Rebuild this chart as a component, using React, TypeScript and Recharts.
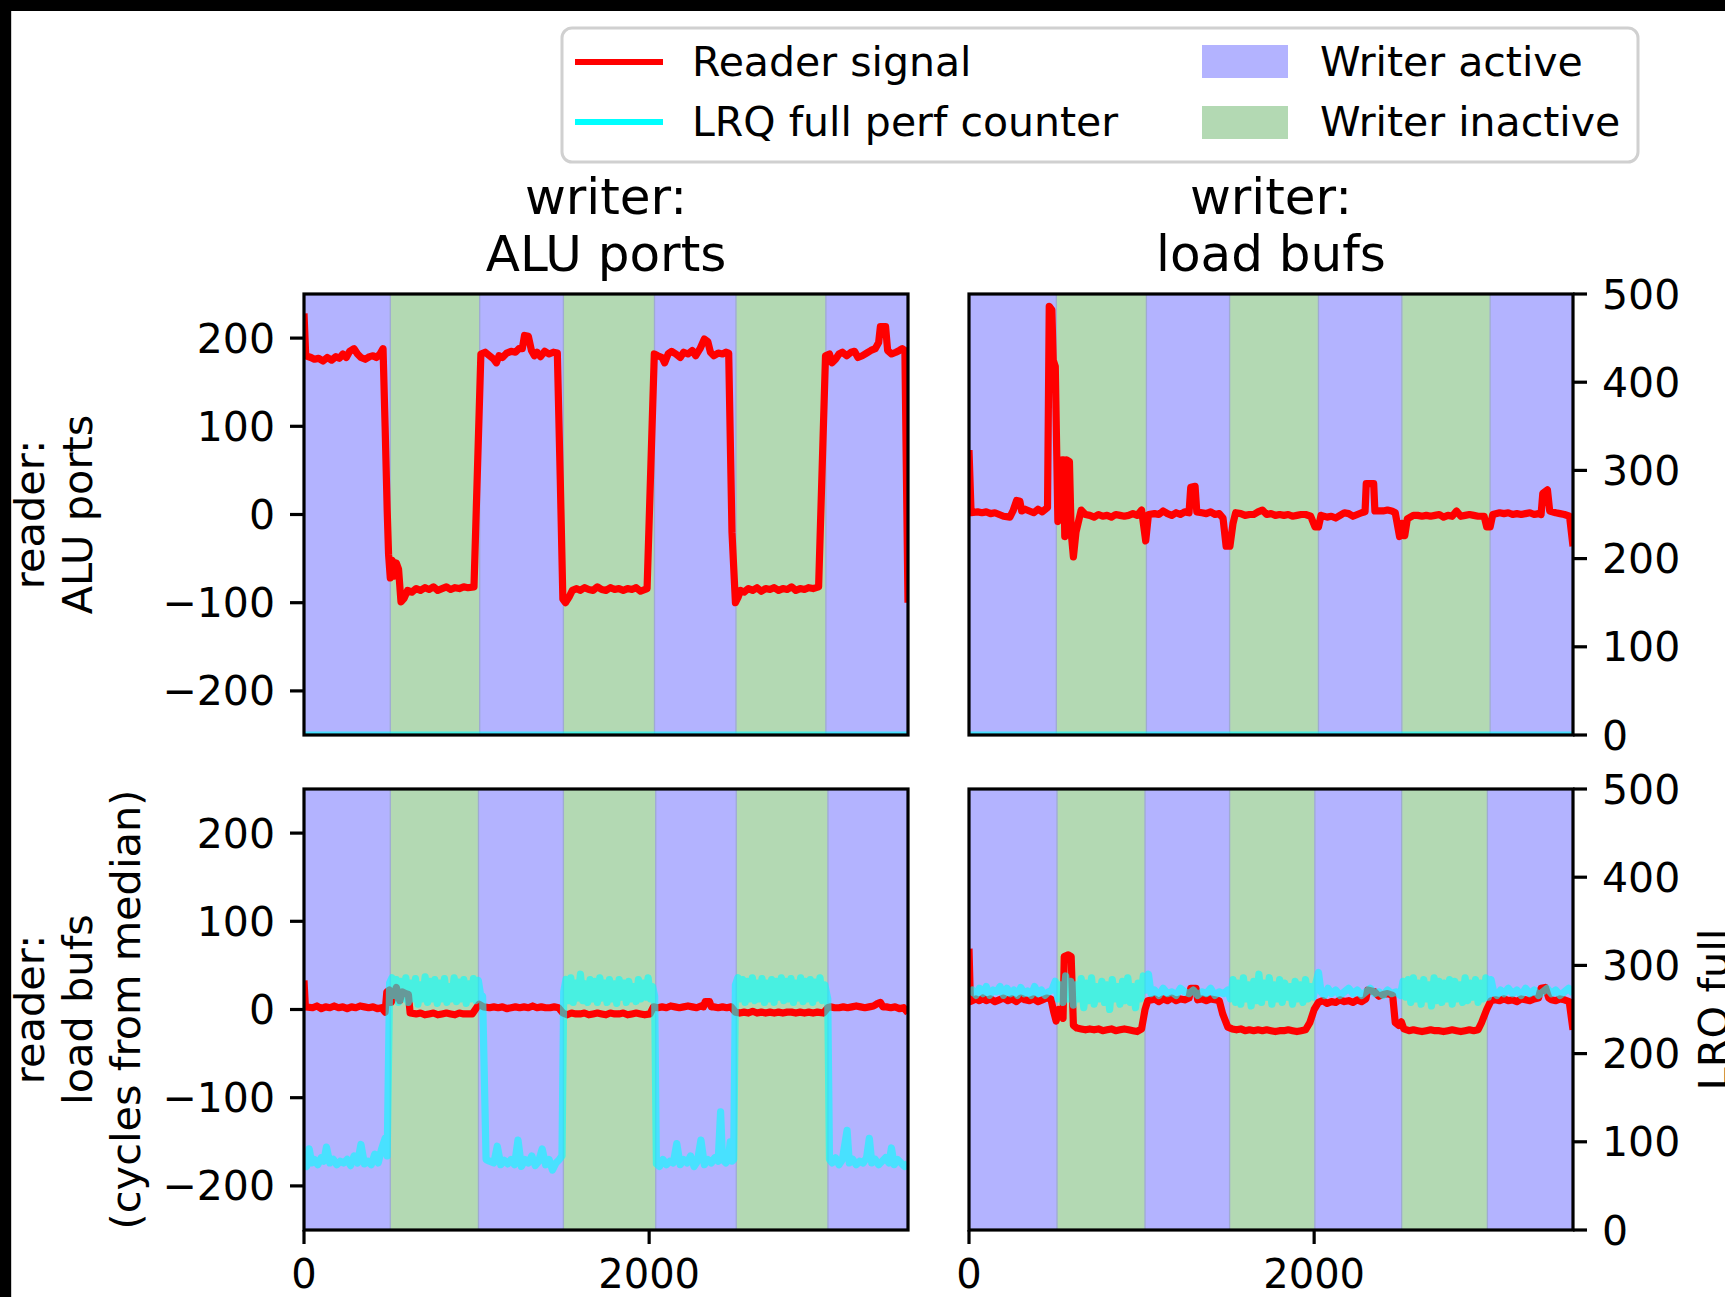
import React from 'react';
import { ComposedChart, Line, XAxis, YAxis, ReferenceArea, ReferenceLine } from 'recharts';

type Pair = [number, number];

const FONT = '"DejaVu Sans", "Liberation Sans", sans-serif';

// Axis ticks
const X_TICKS = [0, 2000];
const SIGNAL_TICKS = [-200, -100, 0, 100, 200];
const LRQ_TICKS = [0, 100, 200, 300, 400, 500];
const X_DOMAIN: [number, number] = [0, 3500];
const SIGNAL_DOMAIN: [number, number] = [-250, 250];
const LRQ_DOMAIN: [number, number] = [0, 500];

// Sample index at which the writer toggles (starts active at 0)
const switchesAluAlu = [500, 1018, 1503, 2031, 2503, 3024];
const switchesAluLoad = [506, 1028, 1510, 2025, 2508, 3020];
const switchesLoadAlu = [500, 1011, 1503, 2038, 2505, 3036];
const switchesLoadLoad = [510, 1020, 1510, 2004, 2507, 3004];

// Reader: ALU ports, writer: ALU ports
const signalAluAlu: Pair[] = [
  [0, 228], [10, 180], [40, 178], [60, 176], [85, 177], [110, 174], [135, 178], [160, 175], [185, 179],
  [205, 177], [225, 182], [245, 178], [265, 185], [290, 188], [310, 182], [330, 178], [355, 176],
  [380, 179], [400, 180], [420, 178], [440, 182], [458, 188], [470, 100], [482, 5], [490, -45],
  [500, -72], [510, -52], [522, -70], [535, -55], [548, -62], [562, -99], [580, -95], [600, -86],
  [625, -88], [650, -84], [675, -86], [700, -83], [725, -85], [750, -82], [775, -86], [800, -84],
  [825, -82], [850, -85], [875, -83], [900, -84], [925, -82], [950, -83], [985, -82], [1025, 182],
  [1050, 184], [1075, 180], [1100, 176], [1115, 172], [1130, 180], [1150, 178], [1175, 183],
  [1200, 185], [1225, 184], [1245, 188], [1265, 188], [1278, 203], [1300, 202], [1318, 186],
  [1335, 180], [1350, 184], [1370, 179], [1395, 185], [1420, 182], [1445, 184], [1468, 183],
  [1485, 40], [1500, -96], [1515, -100], [1535, -94], [1555, -86], [1580, -84], [1600, -86],
  [1625, -83], [1650, -85], [1675, -86], [1700, -82], [1725, -85], [1750, -86], [1775, -83],
  [1800, -85], [1825, -84], [1850, -86], [1875, -84], [1900, -85], [1925, -83], [1950, -87],
  [1988, -84], [2030, 182], [2050, 180], [2075, 178], [2090, 172], [2110, 182], [2130, 185],
  [2155, 182], [2180, 178], [2200, 184], [2225, 182], [2250, 186], [2270, 180], [2295, 188],
  [2320, 199], [2340, 196], [2355, 184], [2375, 180], [2400, 183], [2425, 182], [2445, 184],
  [2461, 183], [2480, -20], [2500, -100], [2515, -94], [2530, -86], [2550, -88], [2575, -84],
  [2600, -86], [2625, -83], [2650, -87], [2675, -84], [2700, -85], [2725, -83], [2750, -86],
  [2775, -84], [2800, -85], [2825, -82], [2850, -86], [2875, -84], [2900, -85], [2925, -83],
  [2950, -84], [2982, -82], [3022, 180], [3045, 182], [3060, 172], [3080, 176], [3100, 182],
  [3120, 184], [3145, 180], [3170, 184], [3190, 185], [3210, 178], [3235, 180], [3260, 183],
  [3285, 186], [3310, 188], [3330, 195], [3340, 213], [3370, 213], [3382, 186], [3405, 182],
  [3430, 184], [3450, 186], [3467, 188], [3482, 186], [3500, -100],
];
const lrqAluAlu: Pair[] = [[0, 0], [1000, 0], [2000, 0], [3000, 0], [3500, 0]];

// Reader: ALU ports, writer: load bufs
const signalAluLoad: Pair[] = [
  [0, 73], [12, 2], [50, 3], [75, 2], [100, 3], [125, 1], [150, 2], [175, 0], [200, -2], [237, -3],
  [255, 4], [276, 16], [295, 15], [305, 4], [325, 6], [350, 4], [375, 2], [400, 6], [425, 3],
  [455, 8], [465, 236], [480, 232], [488, 175], [500, 168], [515, -8], [528, -2], [540, 62],
  [548, 62], [555, -25], [565, 62], [582, 60], [592, -20], [605, -48], [620, -20], [650, 5],
  [675, 0], [700, -1], [725, -3], [750, 0], [775, -2], [800, -1], [825, -3], [850, 0], [875, -1],
  [900, -2], [925, -1], [950, 1], [975, -1], [1000, 5], [1024, -30], [1040, 0], [1075, 1],
  [1100, 0], [1125, 4], [1150, 1], [1175, -1], [1200, 2], [1225, 0], [1250, 3], [1275, 2],
  [1285, 31], [1310, 32], [1320, 3], [1350, 2], [1375, 1], [1400, 3], [1425, 0], [1450, 1],
  [1472, -4], [1490, -36], [1512, -36], [1530, -10], [1545, 2], [1575, 1], [1600, -1], [1625, 0],
  [1650, 0], [1675, 3], [1700, 5], [1725, 0], [1750, 1], [1775, -1], [1800, 0], [1825, -1],
  [1850, 0], [1875, -2], [1900, -1], [1925, 0], [1950, 0], [1980, -2], [2005, -14], [2025, -14],
  [2040, -1], [2075, -3], [2100, -2], [2125, -4], [2150, -1], [2175, 2], [2200, 1], [2225, -2],
  [2250, 0], [2275, 2], [2295, 3], [2302, 35], [2345, 35], [2352, 4], [2375, 4], [2400, 4],
  [2425, 5], [2450, 4], [2470, 2], [2495, -25], [2510, -10], [2525, -24], [2540, -5], [2575, -1],
  [2600, -1], [2625, -2], [2650, -1], [2675, -2], [2700, -1], [2725, 0], [2750, -3], [2775, -1],
  [2800, -2], [2825, 4], [2850, -2], [2875, -1], [2900, 0], [2925, -1], [2950, -2], [2985, -2],
  [3000, -14], [3020, -14], [3035, 0], [3075, 2], [3100, 1], [3125, 2], [3150, 0], [3175, 1],
  [3200, 0], [3225, 1], [3250, 2], [3275, 0], [3300, 1], [3315, 0], [3325, 24], [3352, 28],
  [3365, 4], [3400, 2], [3425, 1], [3450, 0], [3480, -2], [3500, -36],
];
const lrqAluLoad: Pair[] = [[0, 0], [1000, 0], [2000, 0], [3000, 0], [3500, 0]];

// Reader: load bufs, writer: ALU ports
const signalLoadAlu: Pair[] = [
  [0, 33], [8, 3], [50, 2], [75, 4], [100, 1], [125, 3], [150, 2], [175, 4], [200, 2], [225, 3],
  [250, 1], [275, 3], [300, 2], [325, 4], [350, 3], [375, 2], [400, 3], [425, 1], [450, 2],
  [470, -3], [480, 20], [495, 22], [505, 8], [520, 15], [535, 25], [555, 10], [570, 20], [590, 18],
  [605, 17], [615, -4], [650, -5], [675, -4], [700, -6], [725, -5], [750, -4], [775, -6], [800, -5],
  [825, -4], [850, -5], [875, -6], [900, -4], [925, -5], [950, -5], [975, -5], [1000, 2], [1015, 6],
  [1040, 3], [1075, 2], [1100, 3], [1125, 2], [1150, 3], [1175, 1], [1200, 2], [1225, 3], [1250, 2],
  [1275, 3], [1300, 2], [1325, 4], [1350, 2], [1375, 3], [1400, 2], [1425, 2], [1450, 3], [1475, 2],
  [1500, -4], [1525, -6], [1550, -4], [1575, -5], [1600, -5], [1625, -4], [1650, -6], [1675, -5],
  [1700, -4], [1725, -5], [1750, -6], [1775, -4], [1800, -5], [1825, -5], [1850, -4], [1875, -6],
  [1900, -5], [1925, -4], [1950, -5], [1975, -6], [2005, -5], [2025, 3], [2050, 2], [2075, 3],
  [2100, 2], [2125, 4], [2150, 3], [2175, 2], [2200, 3], [2225, 4], [2250, 3], [2275, 2], [2300, 4],
  [2315, 3], [2325, 9], [2350, 9], [2360, 3], [2375, 3], [2400, 2], [2425, 3], [2450, 2], [2475, 3],
  [2500, -3], [2525, -4], [2550, -3], [2575, -4], [2600, -2], [2625, -4], [2650, -3], [2675, -4],
  [2700, -3], [2725, -4], [2750, -3], [2775, -4], [2800, -3], [2825, -3], [2850, -4], [2875, -3],
  [2900, -4], [2925, -3], [2950, -4], [2975, -3], [3010, -4], [3035, 2], [3050, 3], [3075, 2],
  [3100, 2], [3125, 3], [3150, 2], [3175, 3], [3200, 4], [3225, 3], [3250, 2], [3275, 3], [3300, 4],
  [3325, 7], [3340, 8], [3355, 3], [3375, 3], [3400, 2], [3425, 3], [3450, 1], [3475, 2], [3500, -4],
];
const lrqLoadAlu: Pair[] = [
  [0, 78], [15, 72], [30, 92], [45, 76], [60, 80], [80, 74], [100, 82], [115, 78], [130, 94],
  [150, 76], [170, 80], [190, 74], [210, 78], [230, 76], [250, 80], [270, 73], [290, 84], [310, 76],
  [330, 97], [350, 75], [370, 78], [390, 74], [410, 86], [430, 76], [450, 92], [470, 104], [482, 84],
  [496, 280], [510, 286], [522, 266], [535, 284], [548, 258], [562, 282], [576, 262], [590, 286],
  [604, 258], [618, 280], [632, 262], [646, 285], [660, 256], [674, 278], [688, 262], [702, 287],
  [716, 258], [730, 282], [744, 262], [758, 284], [772, 257], [786, 280], [800, 262], [814, 285],
  [828, 258], [842, 276], [856, 262], [870, 286], [884, 259], [898, 281], [912, 262], [926, 284],
  [940, 257], [954, 279], [968, 262], [982, 285], [996, 260], [1010, 283], [1022, 268], [1035, 265],
  [1055, 80], [1075, 78],
  [1100, 76], [1120, 95], [1140, 74], [1160, 79], [1180, 75], [1200, 80], [1220, 74], [1240, 102],
  [1260, 72], [1280, 80], [1300, 76], [1320, 84], [1340, 73], [1360, 78], [1380, 92], [1400, 74],
  [1420, 80], [1440, 68], [1460, 76], [1480, 80], [1495, 84], [1505, 270], [1518, 284], [1532, 260],
  [1546, 286], [1560, 258], [1574, 280], [1588, 263], [1602, 290], [1616, 260], [1630, 279],
  [1644, 258], [1658, 284], [1672, 262], [1686, 282], [1700, 258], [1714, 286], [1728, 263],
  [1742, 280], [1756, 258], [1770, 284], [1784, 262], [1798, 279], [1812, 257], [1826, 284],
  [1840, 264], [1854, 280], [1868, 258], [1882, 282], [1896, 262], [1910, 276], [1924, 259],
  [1938, 284], [1952, 262], [1966, 280], [1980, 264], [1994, 286], [2008, 262], [2020, 276],
  [2032, 265], [2042, 75], [2060, 72], [2080, 80], [2100, 74],
  [2120, 78], [2140, 76], [2160, 98], [2180, 74], [2200, 80], [2220, 76], [2240, 84], [2260, 72],
  [2280, 78], [2300, 102], [2320, 74], [2340, 80], [2360, 76], [2380, 82], [2400, 78], [2414, 134],
  [2425, 80], [2445, 76], [2460, 82], [2470, 100], [2480, 78], [2490, 80], [2500, 278], [2514, 286],
  [2528, 262], [2542, 284], [2556, 258], [2570, 282], [2584, 262], [2598, 286], [2612, 260],
  [2626, 280], [2640, 262], [2654, 285], [2668, 258], [2682, 280], [2696, 262], [2710, 284],
  [2724, 258], [2738, 282], [2752, 264], [2766, 286], [2780, 260], [2794, 282], [2808, 262],
  [2822, 285], [2836, 258], [2850, 280], [2864, 263], [2878, 286], [2892, 259], [2906, 282],
  [2920, 262], [2934, 284], [2948, 258], [2962, 281], [2976, 263], [2990, 286], [3004, 260],
  [3018, 278], [3035, 262], [3045, 80], [3060, 76], [3080, 82],
  [3100, 74], [3120, 80], [3147, 113], [3160, 76], [3180, 80], [3200, 74], [3220, 78], [3240, 76],
  [3260, 82], [3276, 104], [3290, 76], [3310, 80], [3330, 74], [3350, 78], [3370, 82], [3390, 76],
  [3404, 93], [3420, 74], [3440, 80], [3460, 76], [3480, 72], [3500, 76],
];

// Reader: load bufs, writer: load bufs
const signalLoadLoad: Pair[] = [
  [0, 69], [8, 9], [40, 12], [60, 10], [80, 13], [100, 10], [125, 12], [150, 9], [175, 11], [200, 13],
  [225, 10], [250, 12], [275, 9], [300, 13], [325, 11], [350, 10], [375, 12], [400, 9], [425, 11],
  [450, 13], [475, 12], [490, -2], [505, -13], [520, 0], [530, -5], [545, -10], [552, 60], [575, 62],
  [592, 60], [605, -18], [625, -21], [650, -22], [675, -23], [700, -22], [725, -23], [750, -22],
  [775, -24], [800, -23], [825, -22], [850, -24], [875, -23], [900, -22], [925, -23], [950, -24],
  [975, -25], [1000, -22], [1020, 0], [1036, 10], [1060, 11], [1075, 12], [1100, 9], [1125, 12],
  [1150, 10], [1175, 13], [1200, 10], [1225, 12], [1250, 11], [1275, 13], [1285, 24], [1315, 24],
  [1325, 11], [1350, 12], [1375, 10], [1400, 12], [1425, 11], [1450, 10], [1470, -5], [1500, -20],
  [1525, -22], [1550, -23], [1575, -22], [1600, -24], [1625, -23], [1650, -24], [1675, -23],
  [1700, -24], [1725, -23], [1750, -24], [1775, -25], [1800, -24], [1825, -24], [1850, -23],
  [1875, -24], [1900, -25], [1925, -24], [1950, -23], [1975, -15], [2000, 0], [2025, 8], [2050, 10],
  [2075, 7], [2100, 9], [2125, 8], [2150, 11], [2175, 9], [2200, 10], [2225, 8], [2250, 11], [2275, 9],
  [2300, 12], [2310, 22], [2350, 20], [2375, 15], [2400, 17], [2425, 18], [2455, 16], [2470, -15],
  [2490, -18], [2505, -14], [2520, -22], [2550, -24], [2575, -23], [2600, -24], [2625, -25],
  [2650, -24], [2675, -23], [2700, -24], [2725, -24], [2750, -25], [2775, -24], [2800, -23],
  [2825, -24], [2850, -25], [2875, -24], [2900, -23], [2925, -24], [2950, -23], [2970, -15],
  [3000, 0], [3025, 10], [3050, 11], [3075, 10], [3100, 12], [3125, 10], [3150, 11], [3175, 9],
  [3200, 12], [3225, 11], [3250, 10], [3275, 12], [3300, 13], [3315, 24], [3340, 25], [3360, 13],
  [3375, 11], [3400, 10], [3425, 12], [3450, 11], [3478, 9], [3500, -23],
];
const lrqLoadLoad: Pair[] = [
  [0, 268], [20, 272], [40, 266], [60, 274], [80, 268], [100, 276], [120, 266], [140, 272], [160, 270],
  [180, 276], [200, 266], [220, 274], [240, 268], [260, 272], [280, 266], [300, 275], [320, 268],
  [340, 271], [360, 266], [380, 276], [400, 268], [420, 272], [440, 266], [460, 270], [480, 272],
  [500, 282], [515, 262], [530, 278], [545, 258], [560, 288], [575, 262], [590, 282], [605, 255],
  [620, 278], [635, 262], [650, 285], [665, 252], [680, 280], [695, 260], [710, 286], [725, 256],
  [740, 276], [755, 262], [770, 282], [785, 258], [800, 278], [815, 250], [830, 284], [845, 262],
  [860, 276], [875, 256], [890, 282], [905, 260], [920, 286], [935, 258], [950, 276], [965, 252],
  [980, 280], [995, 262], [1010, 288], [1025, 272], [1040, 290], [1055, 268], [1075, 272],
  [1100, 266], [1125, 274], [1150, 268], [1175, 270], [1200, 266], [1225, 274], [1250, 270],
  [1275, 268], [1300, 272], [1325, 266], [1350, 270], [1375, 268], [1400, 274], [1425, 266],
  [1450, 270], [1475, 268], [1500, 272], [1515, 262], [1530, 284], [1545, 258], [1560, 280],
  [1575, 256], [1590, 286], [1605, 262], [1620, 278], [1635, 254], [1650, 282], [1665, 260],
  [1680, 290], [1695, 258], [1710, 280], [1725, 264], [1740, 286], [1755, 256], [1770, 278],
  [1785, 262], [1800, 284], [1815, 258], [1830, 280], [1845, 264], [1860, 276], [1875, 256],
  [1890, 282], [1905, 262], [1920, 278], [1935, 258], [1950, 284], [1965, 262], [1980, 276],
  [1995, 264], [2010, 280], [2025, 292], [2040, 270], [2060, 266], [2080, 274], [2100, 268],
  [2125, 272], [2150, 266], [2175, 270], [2200, 274], [2225, 268], [2250, 272], [2275, 266],
  [2300, 270], [2325, 274], [2350, 268], [2375, 270], [2400, 266], [2425, 272], [2450, 268],
  [2475, 270], [2500, 266], [2515, 282], [2530, 264], [2545, 284], [2560, 258], [2575, 286],
  [2590, 262], [2605, 280], [2620, 256], [2635, 284], [2650, 262], [2665, 278], [2680, 254],
  [2695, 286], [2710, 260], [2725, 282], [2740, 258], [2755, 280], [2770, 262], [2785, 284],
  [2800, 256], [2815, 282], [2830, 262], [2845, 278], [2860, 258], [2875, 286], [2890, 260],
  [2905, 280], [2920, 264], [2935, 284], [2950, 258], [2965, 280], [2980, 262], [2995, 286],
  [3010, 264], [3025, 284], [3040, 270], [3060, 266], [3080, 272], [3100, 268], [3125, 274],
  [3150, 268], [3175, 272], [3200, 266], [3225, 274], [3250, 268], [3275, 272], [3300, 266],
  [3325, 270], [3350, 274], [3375, 268], [3400, 272], [3425, 266], [3450, 270], [3475, 274],
  [3500, 268],
];

// Layout
const PAGE_W = 1725;
const PAGE_H = 1297;
const PLOT_W = 604;
const PLOT_H = 441;
const COL_X = [304, 969];
const ROW_Y = [294, 789];
const SIDE = 160;
const TOP_PAD = 45;
const BOTTOM_PAD = 66;

const ACTIVE_FILL = '#b3b3ff';
const INACTIVE_FILL = '#b3d9b3';
const EDGE = '#9eaad2';
const READER_RED = '#ff0000';
const LRQ_CYAN = '#00ffff';
const LINE_W = 7.2;

const TICK_TEXT = { fill: '#000', fontSize: 41, fontFamily: FONT };
const X_TICK_TEXT = { fill: '#000', fontSize: 40, fontFamily: FONT };
const TICK_LINE = { stroke: '#000', strokeWidth: 3.2 };

const fmtSigned = (v: number) => (v < 0 ? `\u2212${Math.abs(v)}` : `${v}`);

function phases(switches: number[]) {
  const edges = [X_DOMAIN[0], ...switches, X_DOMAIN[1]];
  return edges.slice(0, -1).map((x1, i) => ({ x1, x2: edges[i + 1], active: i % 2 === 0 }));
}

const toPoints = (pairs: Pair[]) => pairs.map(([x, y]) => ({ x, y }));

type PanelProps = {
  left: number;
  top: number;
  signal: Pair[];
  lrq: Pair[];
  switches: number[];
  showX: boolean;
  showSignalLabels: boolean;
  showLrqAxis: boolean;
};

function Panel({ left, top, signal, lrq, switches, showX, showSignalLabels, showLrqAxis }: PanelProps) {
  const bands = phases(switches);
  return (
    <div style={{ position: 'absolute', left: left - SIDE, top: top - TOP_PAD }}>
      <ComposedChart
        width={SIDE * 2 + PLOT_W}
        height={TOP_PAD + PLOT_H + BOTTOM_PAD}
        margin={{ top: TOP_PAD, right: showLrqAxis ? 0 : SIDE, bottom: showX ? 0 : BOTTOM_PAD, left: 0 }}
      >
        <XAxis
          type="number"
          dataKey="x"
          domain={X_DOMAIN}
          ticks={X_TICKS}
          interval={0}
          allowDataOverflow
          hide={!showX}
          height={BOTTOM_PAD}
          tickSize={14}
          tickMargin={16}
          tick={X_TICK_TEXT}
          tickLine={TICK_LINE}
          axisLine={false}
        />
        <YAxis
          yAxisId="signal"
          orientation="left"
          type="number"
          width={SIDE}
          domain={SIGNAL_DOMAIN}
          ticks={SIGNAL_TICKS}
          interval={0}
          allowDataOverflow
          tickSize={14}
          tickMargin={15}
          tick={showSignalLabels ? TICK_TEXT : false}
          tickLine={TICK_LINE}
          axisLine={false}
          tickFormatter={fmtSigned}
        />
        <YAxis
          yAxisId="lrq"
          orientation="right"
          type="number"
          width={SIDE}
          domain={LRQ_DOMAIN}
          ticks={LRQ_TICKS}
          interval={0}
          allowDataOverflow
          hide={!showLrqAxis}
          tickSize={14}
          tickMargin={15}
          tick={TICK_TEXT}
          tickLine={TICK_LINE}
          axisLine={false}
        />
        {bands.map((b) => (
          <ReferenceArea
            key={`band-${b.x1}`}
            yAxisId="signal"
            x1={b.x1}
            x2={b.x2}
            fill={b.active ? ACTIVE_FILL : INACTIVE_FILL}
            fillOpacity={1}
            stroke="none"
          />
        ))}
        {switches.map((s) => (
          <ReferenceLine key={`edge-${s}`} yAxisId="signal" x={s} stroke={EDGE} strokeWidth={1.3} />
        ))}
        <Line
          yAxisId="signal"
          data={toPoints(signal)}
          dataKey="y"
          type="linear"
          stroke={READER_RED}
          strokeWidth={LINE_W}
          strokeLinejoin="round"
          dot={false}
          activeDot={false}
          isAnimationActive={false}
        />
        <Line
          yAxisId="lrq"
          data={toPoints(lrq)}
          dataKey="y"
          type="linear"
          stroke={LRQ_CYAN}
          strokeOpacity={0.6}
          strokeWidth={LINE_W}
          strokeLinejoin="round"
          dot={false}
          activeDot={false}
          isAnimationActive={false}
        />
      </ComposedChart>
    </div>
  );
}

function Frames() {
  const rects: React.ReactNode[] = [];
  ROW_Y.forEach((y) =>
    COL_X.forEach((x) =>
      rects.push(
        <rect key={`${x}-${y}`} x={x} y={y} width={PLOT_W} height={PLOT_H} fill="none" stroke="#000" strokeWidth={3.2} />
      )
    )
  );
  return <g>{rects}</g>;
}

function Overlay() {
  const midL = COL_X[0] + PLOT_W / 2;
  const midR = COL_X[1] + PLOT_W / 2;
  const rowMid0 = ROW_Y[0] + PLOT_H / 2;
  const rowMid1 = ROW_Y[1] + PLOT_H / 2;
  return (
    <svg
      width={PAGE_W}
      height={PAGE_H}
      style={{ position: 'absolute', left: 0, top: 0, pointerEvents: 'none' }}
      fontFamily={FONT}
    >
      <Frames />

      {/* column titles */}
      <g fontSize={50} textAnchor="middle" fill="#000">
        <text x={midL} y={214}>writer:</text>
        <text x={midL} y={271}>ALU ports</text>
        <text x={midR} y={214}>writer:</text>
        <text x={midR} y={271}>load bufs</text>
      </g>

      {/* row labels */}
      <g fontSize={41.5} textAnchor="middle" fill="#000">
        <text transform={`translate(44, ${rowMid0}) rotate(-90)`}>reader:</text>
        <text transform={`translate(92, ${rowMid0}) rotate(-90)`}>ALU ports</text>
        <text transform={`translate(44, ${rowMid1}) rotate(-90)`}>reader:</text>
        <text transform={`translate(92, ${rowMid1}) rotate(-90)`}>load bufs</text>
        <text transform={`translate(140, ${rowMid1}) rotate(-90)`}>(cycles from median)</text>
        <text transform={`translate(1728, ${rowMid1}) rotate(-90)`}>LRQ full</text>
      </g>

      {/* legend */}
      <g>
        <rect x={562} y={28} width={1076} height={134} rx={10} ry={10} fill="#fff" stroke="#d0d0d0" strokeWidth={3} />
        <line x1={575} x2={663} y1={62} y2={62} stroke={READER_RED} strokeWidth={6} />
        <line x1={575} x2={663} y1={122} y2={122} stroke={LRQ_CYAN} strokeWidth={6} />
        <rect x={1202} y={45} width={86} height={33} fill={ACTIVE_FILL} />
        <rect x={1202} y={106} width={86} height={33} fill={INACTIVE_FILL} />
        <g fontSize={41} fill="#000">
          <text x={692} y={76}>Reader signal</text>
          <text x={692} y={136}>LRQ full perf counter</text>
          <text x={1320} y={76}>Writer active</text>
          <text x={1320} y={136}>Writer inactive</text>
        </g>
      </g>

      {/* outer edge */}
      <rect x={0} y={0} width={PAGE_W} height={11} fill="#000" />
      <rect x={0} y={0} width={11} height={PAGE_H} fill="#000" />
      <line x1={11.5} x2={11.5} y1={11} y2={PAGE_H} stroke="#d0d0d0" strokeWidth={1} />
    </svg>
  );
}

export default function App() {
  return (
    <div
      style={{
        position: 'absolute',
        left: 0,
        top: 0,
        width: PAGE_W,
        height: PAGE_H,
        overflow: 'hidden',
        background: '#fff',
        fontFamily: FONT,
      }}
    >
      <Panel left={COL_X[0]} top={ROW_Y[0]} signal={signalAluAlu} lrq={lrqAluAlu} switches={switchesAluAlu}
        showX={false} showSignalLabels showLrqAxis={false} />
      <Panel left={COL_X[1]} top={ROW_Y[0]} signal={signalAluLoad} lrq={lrqAluLoad} switches={switchesAluLoad}
        showX={false} showSignalLabels={false} showLrqAxis />
      <Panel left={COL_X[0]} top={ROW_Y[1]} signal={signalLoadAlu} lrq={lrqLoadAlu} switches={switchesLoadAlu}
        showX showSignalLabels showLrqAxis={false} />
      <Panel left={COL_X[1]} top={ROW_Y[1]} signal={signalLoadLoad} lrq={lrqLoadLoad} switches={switchesLoadLoad}
        showX showSignalLabels={false} showLrqAxis />
      <Overlay />
    </div>
  );
}
